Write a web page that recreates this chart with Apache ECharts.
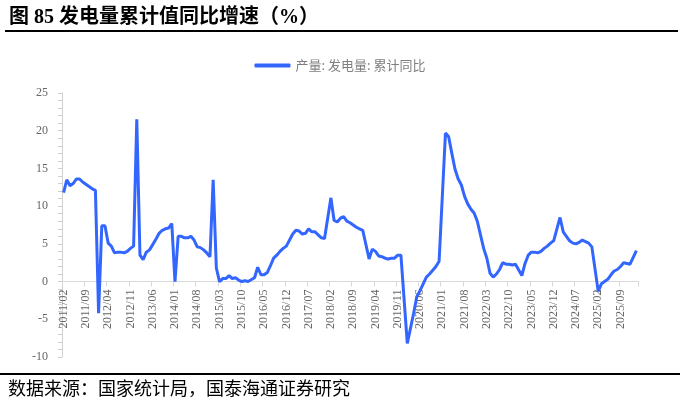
<!DOCTYPE html>
<html>
<head>
<meta charset="utf-8">
<script src="https://cdn.jsdelivr.net/npm/echarts@6/dist/echarts.min.js"></script>
<style>
html,body{margin:0;padding:0;background:#fff;}
#chart{width:680px;height:404px;}
</style>
</head>
<body>
<div id="chart"></div>
<script>
// Category range: 2011/02 .. 2026/02 (monthly)
var startYear = 2011, startMonth = 2, monthCount = 181;
var categories = [];
for (var i = 0; i < monthCount; i++) {
  var mm = startMonth - 1 + i;
  var y = startYear + Math.floor(mm / 12);
  var m = (mm % 12) + 1;
  categories.push(y + '/' + (m < 10 ? '0' + m : m));
}

var seriesName = '产量: 发电量: 累计同比';

// Cumulative YoY growth of power generation (%), one value per month from 2011/02
var values2011 = [11.8, 13.5, 12.7, 13.0, 13.6, 13.6, 13.2, 12.9, 12.6, 12.3, 12.1];
var values2012 = [-4.2, 7.4, 7.4, 5.1, 4.7, 3.8, 3.9, 3.9, 3.8, 4.0, 4.4, 4.7];
var values2013 = [21.5, 3.5, 2.9, 3.9, 4.2, 4.9, 5.6, 6.4, 6.8, 7.0, 7.1, 7.7];
var values2014 = [0.0, 6.0, 6.0, 5.8, 5.8, 6.0, 5.5, 4.6, 4.5, 4.2, 3.8, 3.3];
var values2015 = [13.5, 1.8, 0.0, 0.4, 0.4, 0.8, 0.4, 0.5, 0.2, 0.0, 0.1, 0.0];
var values2016 = [null, 0.5, 1.9, 0.9, 0.9, 1.2, 2.1, 3.1, 3.5, 4.0, 4.4, 4.7];
var values2017 = [null, 6.3, 6.8, 6.7, 6.3, 6.4, 7.0, 6.6, 6.6, 6.2, 5.8, 5.7];
var values2018 = [null, 11.1, 8.1, 7.9, 8.4, 8.6, 8.0, 7.8, 7.5, 7.2, 7.0, 6.8];
var values2019 = [null, 3.0, 4.3, 4.0, 3.4, 3.3, 3.1, 3.0, 3.1, 3.1, 3.5, 3.5];
var values2020 = [null, -8.2, -6.2, -4.2, -2.0, -1.2, -0.3, 0.6, 1.0, 1.5, 2.0, 2.7];
var values2021 = [null, 19.7, 19.2, 17.0, 14.9, 13.6, 12.8, 11.3, 10.3, 9.6, 9.1, 8.0];
var values2022 = [null, 4.4, 3.1, 1.1, 0.6, 1.0, 1.6, 2.5, 2.3, 2.3, 2.2, 2.3];
var values2023 = [null, 0.8, 2.4, 3.5, 3.9, 3.9, 3.8, 4.0, 4.4, 4.7, 5.1, 5.4];
var values2024 = [null, 8.5, 6.6, 6.0, 5.4, 5.1, 5.0, 5.2, 5.5, 5.3, 5.1, 4.6];
var values2025 = [null, -1.3, -0.3, 0.0, 0.3, 0.9, 1.4, 1.6, 2.0, 2.5, 2.4, 2.3];
var values2026 = [null, 4.1];

var values = [].concat(values2011, values2012, values2013, values2014, values2015,
  values2016, values2017, values2018, values2019, values2020, values2021,
  values2022, values2023, values2024, values2025, values2026);

var yTicks = { min: -10, max: 25, interval: 5 };

var gridTop = 93, gridBottom = 47, chartH = 404;
var gridH = chartH - gridTop - gridBottom;
// move the x axis (line, ticks and labels) up to the zero line
var xOffset = -((0 - yTicks.min) / (yTicks.max - yTicks.min)) * gridH;

var chart = echarts.init(document.getElementById('chart'), null, { renderer: 'canvas' });
var latin = '"Liberation Serif", "Noto Sans CJK SC", serif';
chart.setOption({
  animation: false,
  backgroundColor: '#ffffff',
  title: {
    text: '图 85 发电量累计值同比增速（%）',
    left: 4,
    top: 3,
    textStyle: { fontSize: 20, fontWeight: 'bold', color: '#000', fontFamily: latin }
  },
  graphic: [
    { type: 'line', shape: { x1: 5, y1: 31, x2: 678, y2: 31 }, style: { stroke: '#000', lineWidth: 2 } },
    { type: 'line', shape: { x1: 0, y1: 374, x2: 680, y2: 374 }, style: { stroke: '#000', lineWidth: 2 } },
    { type: 'text', left: 8, top: 379, style: { text: '数据来源：国家统计局，国泰海通证券研究', font: '18px "Noto Sans CJK SC"', fill: '#000' } }
  ],
  legend: {
    top: 54,
    left: 'center',
    icon: 'roundRect',
    itemWidth: 36,
    itemHeight: 4,
    itemGap: 10,
    textStyle: { fontSize: 13, color: '#7f7f7f', fontFamily: '"Noto Sans CJK SC"' },
    data: [seriesName]
  },
  grid: { left: 62, right: 42, top: gridTop, bottom: gridBottom, containLabel: false },
  xAxis: {
    type: 'category',
    data: categories,
    boundaryGap: true,
    offset: xOffset,
    axisLine: { onZero: false, lineStyle: { color: '#d9d9d9', width: 1 } },
    axisTick: { show: true, interval: 6, length: 5, lineStyle: { color: '#d9d9d9' } },
    axisLabel: { interval: 6, rotate: 90, margin: 8, fontSize: 12, color: '#666666', fontFamily: latin },
    splitLine: { show: false }
  },
  yAxis: {
    type: 'value',
    min: yTicks.min,
    max: yTicks.max,
    interval: yTicks.interval,
    axisLine: { show: true, lineStyle: { color: '#d0d0d0' } },
    axisTick: { show: true, length: 4, lineStyle: { color: '#d0d0d0' } },
    minorTick: { show: true, splitNumber: 5, length: 4, lineStyle: { color: '#d0d0d0' } },
    axisLabel: { fontSize: 12, color: '#666666', fontFamily: latin, margin: 14 },
    splitLine: { show: false }
  },
  series: [{
    name: seriesName,
    type: 'line',
    data: values,
    connectNulls: true,
    showSymbol: false,
    symbol: 'none',
    lineStyle: { color: '#3366ff', width: 3 },
    itemStyle: { color: '#3366ff' }
  }]
});
</script>
</body>
</html>
